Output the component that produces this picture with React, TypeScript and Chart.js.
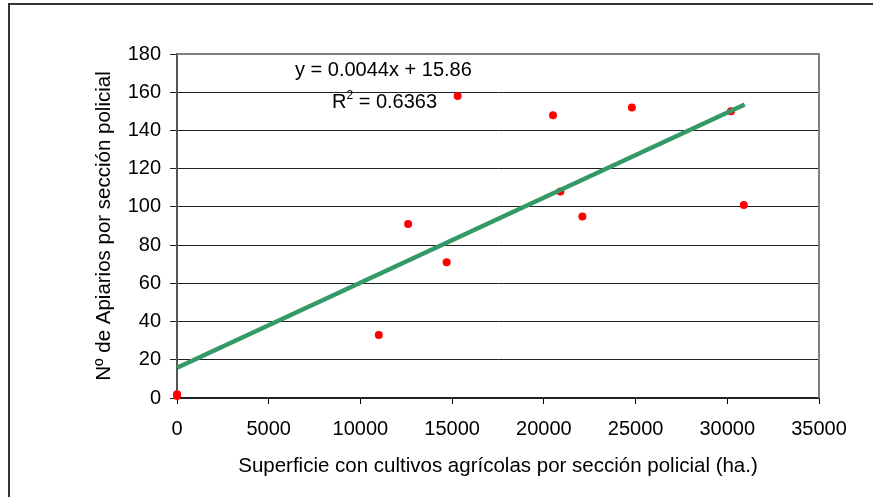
import React, { useEffect, useRef } from "react";
import { Chart, registerables } from "chart.js";

Chart.register(...registerables);

// Data
const superficie = [0, 0, 11000, 12600, 14700, 15300, 20500, 20900, 22100, 24800, 30200, 30900];
const apiarios = [1, 2, 33, 91, 71, 158, 148, 108, 95, 152, 150, 101];

// Trend line endpoints
const trendX = [0, 30950];
const trendY = [15.86, 153.6];
const equationText = "y = 0.0044x + 15.86";
const r2Value = "0.6363";

const xTitle = "Superficie con cultivos agrícolas por sección policial (ha.)";
const yTitle = "Nº de Apiarios por sección policial";

const FONT = '"Liberation Sans", Arial, sans-serif';

export default function App() {
  const ref = useRef<HTMLCanvasElement | null>(null);

  useEffect(() => {
    if (!ref.current) return;
    const points = superficie.map((x, i) => ({ x, y: apiarios[i] }));
    const trend = trendX.map((x, i) => ({ x, y: trendY[i] }));

    const decor = {
      id: "decor",
      beforeDraw(chart: any) {
        const ctx = chart.ctx;
        ctx.save();
        ctx.fillStyle = "#ffffff";
        ctx.fillRect(0, 0, chart.width, chart.height);
        ctx.fillStyle = "#333333";
        ctx.fillRect(8, 3, 2, chart.height);
        ctx.fillRect(8, 3, chart.width, 2);
        ctx.restore();
      },
      beforeDatasetsDraw(chart: any) {
        const { ctx, chartArea: a } = chart;
        ctx.save();
        ctx.strokeStyle = "#808080";
        ctx.lineWidth = 2;
        ctx.beginPath();
        ctx.moveTo(a.left, a.top);
        ctx.lineTo(a.right, a.top);
        ctx.lineTo(a.right, a.bottom);
        ctx.stroke();
        ctx.restore();
      },
      afterDraw(chart: any) {
        const ctx = chart.ctx;
        ctx.save();
        ctx.fillStyle = "#000";
        ctx.textBaseline = "alphabetic";
        ctx.textAlign = "left";
        ctx.font = `20px ${FONT}`;
        ctx.fillText(equationText, 295, 76);
        let x = 332;
        ctx.fillText("R", x, 108);
        x += ctx.measureText("R").width;
        ctx.font = `12px ${FONT}`;
        ctx.fillText("2", x, 99);
        x += ctx.measureText("2").width;
        ctx.font = `20px ${FONT}`;
        ctx.fillText(" = " + r2Value, x, 108);
        ctx.restore();
      },
    };

    const chart = new Chart(ref.current, {
      type: "scatter",
      data: {
        datasets: [
          {
            type: "line",
            data: trend,
            borderColor: "#339966",
            borderWidth: 4.5,
            pointRadius: 0,
            fill: false,
            clip: false,
          } as any,
          {
            data: points,
            backgroundColor: "#ff0000",
            borderWidth: 0,
            pointRadius: 4,
            clip: false,
          } as any,
        ],
      },
      options: {
        animation: false,
        responsive: false,
        devicePixelRatio: 1,
        layout: { padding: { top: 54, right: 54, left: 0, bottom: 0 } },
        plugins: { legend: { display: false }, tooltip: { enabled: false } },
        scales: {
          x: {
            type: "linear",
            min: 0,
            max: 35000,
            afterFit: (s: any) => {
              s.height = 99;
            },
            ticks: {
              stepSize: 5000,
              color: "#000",
              font: { family: FONT, size: 20 },
              padding: 13,
              maxRotation: 0,
              autoSkip: false,
              callback: (v: any) => String(v),
            },
            grid: { drawOnChartArea: false, drawTicks: true, tickLength: 6, color: "#000" },
            border: { color: "#222", width: 2 },
            title: {
              display: true,
              text: xTitle,
              color: "#000",
              font: { family: FONT, size: 20.5 },
              padding: { top: 0, bottom: 18 },
            },
          },
          y: {
            type: "linear",
            min: 0,
            max: 180,
            afterFit: (s: any) => {
              s.width = 177;
            },
            ticks: {
              stepSize: 20,
              color: "#000",
              font: { family: FONT, size: 20 },
              padding: 9,
              callback: (v: any) => String(v),
            },
            grid: { color: "#222", lineWidth: 1, drawTicks: true, tickLength: 7 },
            border: { color: "#555", width: 2 },
            title: {
              display: true,
              text: yTitle,
              color: "#000",
              font: { family: FONT, size: 20.5 },
              padding: { top: 92, bottom: 0 },
            },
          },
        },
      },
      plugins: [decor],
    });
    return () => chart.destroy();
  }, []);

  return (
    <div style={{ position: "fixed", left: 0, top: 0, width: 873, height: 497, background: "#fff" }}>
      <canvas ref={ref} width={873} height={497} style={{ display: "block" }} />
    </div>
  );
}
